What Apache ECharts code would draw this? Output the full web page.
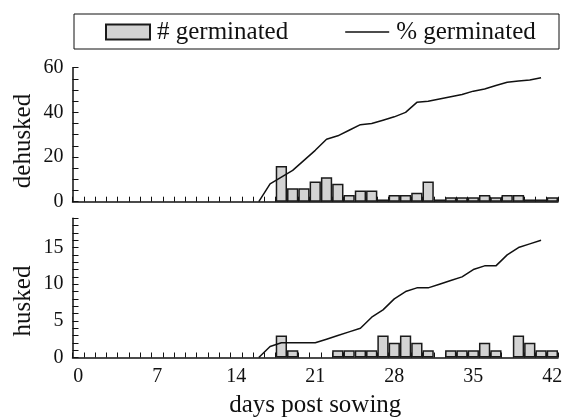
<!DOCTYPE html>
<html>
<head>
<meta charset="utf-8">
<script src="https://cdn.jsdelivr.net/npm/echarts@6/dist/echarts.min.js"></script>
<style>html,body{margin:0;padding:0;background:#fff;}#c{width:565px;height:417px;}</style>
</head>
<body>
<div id="c"></div>
<script>
// ---- data ----
var days = [];
for (var i = 0; i <= 42; i++) days.push(String(i));
// number germinated per day (dehusked), days 18..42
var dehuskedCount = [null,null,null,null,null,null,null,null,null,null,null,null,null,null,null,null,null,null,
  16,6,6,9,11,8,3,5,5,1,3,3,4,9,1,2,2,2,3,2,3,3,1,1,2];
// cumulative % germinated (dehusked), days 16..41
var dehuskedPct = [null,null,null,null,null,null,null,null,null,null,null,null,null,null,null,null,
  0,8,11,14,18.5,23,28,29.5,32,34.5,35,36.5,38,40,44.5,45,46,47,48,49.5,50.5,52,53.5,54,54.5,55.5,null];
// number germinated per day (husked)
var huskedCount = [null,null,null,null,null,null,null,null,null,null,null,null,null,null,null,null,null,null,
  3,1,null,null,null,1,1,1,1,3,2,3,2,1,null,1,1,1,2,1,null,3,2,1,1];
// cumulative % germinated (husked), days 16..41
var huskedPct = [null,null,null,null,null,null,null,null,null,null,null,null,null,null,null,null,
  0,1.5,2,2,2,2,2.5,3,3.5,4,5.5,6.5,8,9,9.5,9.5,10,10.5,11,12,12.5,12.5,14,15,15.5,16,null];
var xTickLabelEvery = 7;
var topYLabels = [0, 20, 40, 60];
var bottomYLabels = [0, 5, 10, 15];

var FONT = 'Liberation Serif';
var INK = '#111';

var barStyle = {color: '#d3d3d3', borderColor: '#1a1a1a', borderWidth: 1.5};
var lineStyle = {color: '#111', width: 1.5};

function xAxisCfg(gridIndex, showLabels) {
  var a = {
    type: 'category', gridIndex: gridIndex, data: days, boundaryGap: true,
    axisLine: {show: true, lineStyle: {color: INK, width: 1.5}},
    axisTick: {show: true, inside: true, length: 5, interval: 0, lineStyle: {color: INK, width: 1}},
    axisLabel: {show: showLabels, interval: xTickLabelEvery - 1, color: INK, fontFamily: FONT, fontSize: 20, margin: 9},
    splitLine: {show: false}
  };
  if (showLabels) {
    a.name = 'days post sowing';
    a.nameLocation = 'middle';
    a.nameGap = 35;
    a.nameTextStyle = {color: INK, fontFamily: FONT, fontSize: 25};
  }
  return a;
}
function yAxisCfg(gridIndex, max, interval, labels) {
  return {
    type: 'value', gridIndex: gridIndex, min: 0, max: max, interval: interval,
    axisLine: {show: true, lineStyle: {color: INK, width: 1.5}},
    axisTick: {show: true, inside: true, length: 6, lineStyle: {color: INK, width: 1}},
    axisLabel: {color: INK, fontFamily: FONT, fontSize: 20, margin: 9,
      formatter: function (v) { return labels.indexOf(v) >= 0 ? String(v) : ''; }},
    splitLine: {show: false}
  };
}

var chart = echarts.init(document.getElementById('c'), null, {renderer: 'canvas'});
chart.setOption({
  animation: false,
  backgroundColor: '#fff',
  grid: [
    {left: 72.5, right: 7, top: 67.7, height: 134, containLabel: false, outerBoundsMode: 'none'},
    {left: 72.5, right: 7, top: 218.2, height: 139.3, containLabel: false, outerBoundsMode: 'none'}
  ],
  legend: {
    left: 105, top: 19.5, padding: 0, itemWidth: 44, itemHeight: 15, itemGap: 57,
    textStyle: {color: INK, fontFamily: FONT, fontSize: 25, padding: [0, 0, 0, 2]},
    data: [
      {name: '# germinated', icon: 'rect'},
      {name: '% germinated', icon: 'path://M0,0M44,15M0,6.8H44V8.3H0Z'}
    ]
  },
  xAxis: [xAxisCfg(0, false), xAxisCfg(1, true)],
  yAxis: [yAxisCfg(0, 60, 5, topYLabels), yAxisCfg(1, 19, 1, bottomYLabels)],
  graphic: [
    {type: 'rect', shape: {x: 74, y: 14, width: 485, height: 35}, style: {fill: 'none', stroke: '#111', lineWidth: 1}},
    {type: 'text', x: 23, y: 141, rotation: Math.PI / 2,
      style: {text: 'dehusked', fontFamily: FONT, fontSize: 25, fill: INK, align: 'center', verticalAlign: 'middle'}},
    {type: 'text', x: 23, y: 301, rotation: Math.PI / 2,
      style: {text: 'husked', fontFamily: FONT, fontSize: 25, fill: INK, align: 'center', verticalAlign: 'middle'}}
  ],
  series: [
    {name: '# germinated', type: 'bar', xAxisIndex: 0, yAxisIndex: 0, data: dehuskedCount,
      barCategoryGap: '0%', itemStyle: barStyle, z: 2},
    {name: '% germinated', type: 'line', xAxisIndex: 0, yAxisIndex: 0, data: dehuskedPct,
      symbol: 'none', showSymbol: false, lineStyle: lineStyle, itemStyle: {color: '#111'}, z: 3},
    {name: '# germinated', type: 'bar', xAxisIndex: 1, yAxisIndex: 1, data: huskedCount,
      barCategoryGap: '0%', itemStyle: barStyle, z: 2},
    {name: '% germinated', type: 'line', xAxisIndex: 1, yAxisIndex: 1, data: huskedPct,
      symbol: 'none', showSymbol: false, lineStyle: lineStyle, itemStyle: {color: '#111'}, z: 3}
  ]
});
</script>
</body>
</html>
